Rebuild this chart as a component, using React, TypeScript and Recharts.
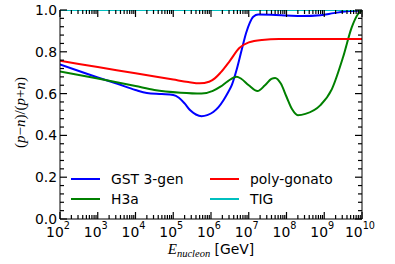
import React from 'react';
import { LineChart, Line, XAxis, YAxis, Legend } from 'recharts';

// ---- data (energies in GeV, values = (p-n)/(p+n)) ----
const gstEnergy = [1e2, 3.16e2, 1e3, 3.16e3, 1e4, 2e4, 5.01e4, 1e5, 1.41e5, 2e5, 2.82e5, 3.98e5, 5.62e5, 7.94e5, 1.15e6, 1.58e6, 2.14e6, 2.82e6, 3.55e6, 4.79e6, 6.46e6, 8.51e6, 1.07e7, 1.32e7, 1.78e7, 3.98e7, 1e8, 2.51e8, 7.94e8, 1.78e9, 3.98e9, 1e10];
const gstValues = [0.740, 0.708, 0.677, 0.648, 0.617, 0.603, 0.598, 0.593, 0.580, 0.553, 0.520, 0.500, 0.492, 0.497, 0.512, 0.535, 0.568, 0.605, 0.640, 0.715, 0.807, 0.890, 0.940, 0.968, 0.978, 0.977, 0.974, 0.971, 0.975, 0.985, 0.994, 0.998];

const h3aEnergy = [1e2, 1e3, 1e4, 3.16e4, 1.58e5, 5.62e5, 1.12e6, 1.78e6, 2.82e6, 4.79e6, 6.31e6, 1e7, 1.7e7, 2.69e7, 3.98e7, 5.01e7, 7.08e7, 1e8, 1.41e8, 2e8, 3.16e8, 7.94e8, 1.58e9, 3.16e9, 5.37e9, 7.94e9, 1e10];
const h3aValues = [0.706, 0.672, 0.636, 0.617, 0.604, 0.600, 0.613, 0.633, 0.660, 0.681, 0.671, 0.640, 0.612, 0.640, 0.670, 0.675, 0.648, 0.585, 0.525, 0.497, 0.503, 0.545, 0.620, 0.775, 0.918, 0.982, 0.998];

const polyEnergy = [1e2, 1e3, 1e4, 1e5, 2.51e5, 5.01e5, 8.91e5, 1.26e6, 1.78e6, 3.16e6, 5.62e6, 1e7, 2.24e7, 6.31e7, 1e10];
const polyValues = [0.757, 0.727, 0.697, 0.667, 0.655, 0.649, 0.657, 0.673, 0.700, 0.757, 0.818, 0.845, 0.857, 0.861, 0.861];

const tigEnergy = [1e2, 1e10];
const tigValues = [1.0, 1.0];

const seriesNames = ['GST 3-gen', 'H3a', 'poly-gonato', 'TIG'];

const xMajorTicks = [1e2, 1e3, 1e4, 1e5, 1e6, 1e7, 1e8, 1e9, 1e10];
const xTickExponents = ['2', '3', '4', '5', '6', '7', '8', '9', '10'];
const xMinorMultipliers = [2, 3, 4, 5, 6, 7, 8, 9];

const yMajorTicks = [0, 0.2, 0.4, 0.6, 0.8, 1.0];
const yTickLabels = ['0.0', '0.2', '0.4', '0.6', '0.8', '1.0'];
const yMinorTicks = [0.04, 0.08, 0.12, 0.16, 0.24, 0.28, 0.32, 0.36, 0.44, 0.48, 0.52, 0.56, 0.64, 0.68, 0.72, 0.76, 0.84, 0.88, 0.92, 0.96];

const toRows = (es: number[], vs: number[]) => es.map((e, i) => ({ e, v: vs[i] }));
const gstData = toRows(gstEnergy, gstValues);
const h3aData = toRows(h3aEnergy, h3aValues);
const polyData = toRows(polyEnergy, polyValues);
const tigData = toRows(tigEnergy, tigValues);

const xMinorTicks: number[] = [];
xMajorTicks.slice(0, -1).forEach((d) => xMinorMultipliers.forEach((m) => xMinorTicks.push(d * m)));
const xAllTicks = [...xMajorTicks, ...xMinorTicks];
const yAllTicks = [...yMajorTicks, ...yMinorTicks];

const FONT = 'DejaVu Sans';
const MATH = 'Liberation Serif';
const FS = 13.9;
const MAJOR = 7;
const MINOR = 4;
const TICK_W = 1.2;

const XTick = (props: any) => {
  const x = Number(props.x);
  const y = Number(props.y);
  const side = props.side;
  const value = props.payload ? props.payload.value : 0;
  const idx = xMajorTicks.findIndex((t) => Math.abs(t - value) / t < 1e-9);
  const major = idx >= 0;
  const len = major ? MAJOR : MINOR;
  const dir = side === 'bottom' ? -1 : 1;
  return (
    <g>
      <path d={`M${x},${y}L${x},${y + dir * len}`} stroke="#000" strokeWidth={TICK_W} fill="none" />
      {major && side === 'bottom' && (
        <text x={x - 2} y={y + 17.5} textAnchor="middle" fontFamily={FONT} fontSize={FS} fill="#000">
          <tspan>10</tspan>
          <tspan fontSize={9.7} dy={-7.2}>{xTickExponents[idx]}</tspan>
        </text>
      )}
    </g>
  );
};

const YTick = (props: any) => {
  const x = Number(props.x);
  const y = Number(props.y);
  const side = props.side;
  const value = props.payload ? props.payload.value : 0;
  const idx = yMajorTicks.findIndex((t) => Math.abs(t - value) < 1e-9);
  const major = idx >= 0;
  const len = major ? MAJOR : MINOR;
  const dir = side === 'left' ? 1 : -1;
  return (
    <g>
      <path d={`M${x},${y}L${x + dir * len},${y}`} stroke="#000" strokeWidth={TICK_W} fill="none" />
      {major && side === 'left' && (
        <text x={x - 3} y={y} dy="0.36em" textAnchor="end" fontFamily={FONT} fontSize={FS} fill="#000">
          {yTickLabels[idx]}
        </text>
      )}
    </g>
  );
};

const XLabel = (props: any) => {
  const { viewBox } = props;
  const cx = viewBox.x + viewBox.width / 2;
  const y = viewBox.y + 35;
  return (
    <text x={cx} y={y} textAnchor="middle" fill="#000" fontSize={FS}>
      <tspan fontFamily={MATH} fontStyle="italic" fontSize={15}>E</tspan>
      <tspan fontFamily={MATH} fontStyle="italic" fontSize={10.5} dy={2.5}>nucleon</tspan>
      <tspan fontFamily={FONT} dy={-2.5}> [GeV]</tspan>
    </text>
  );
};

const YLabel = (props: any) => {
  const { viewBox } = props;
  const cx = 20;
  const cy = viewBox.y + viewBox.height / 2 - 2;
  return (
    <text x={cx} y={cy} dy="0.35em" textAnchor="middle" fill="#000" fontFamily={MATH} fontSize={15} transform={`rotate(-90, ${cx}, ${cy})`}>
      <tspan>(</tspan>
      <tspan fontStyle="italic">p</tspan>
      <tspan>−</tspan>
      <tspan fontStyle="italic">n</tspan>
      <tspan>)/(</tspan>
      <tspan fontStyle="italic">p</tspan>
      <tspan>+</tspan>
      <tspan fontStyle="italic">n</tspan>
      <tspan>)</tspan>
    </text>
  );
};

const renderLegend = (props: any) => {
  const raw = props.payload || [];
  const items = seriesNames.map((n) => raw.find((it: any) => it.value === n)).filter(Boolean);
  return (
    <div style={{ display: 'grid', gridTemplateColumns: '139px 139px', gridTemplateRows: '20.3px 20.3px', gridAutoFlow: 'column' }}>
      {items.map((it: any) => (
        <div key={it.value} style={{ display: 'flex', alignItems: 'center', height: 20.3 }}>
          <span style={{ display: 'inline-block', width: 29, height: 2, background: it.color, marginRight: 11 }} />
          <span style={{ fontFamily: FONT, fontSize: FS, color: '#000', lineHeight: '20px', whiteSpace: 'nowrap' }}>{it.value}</span>
        </div>
      ))}
    </div>
  );
};

const axisStroke = { stroke: '#000', strokeWidth: 1 };
const xCommon = { dataKey: 'e', type: 'number' as const, scale: 'log' as const, domain: [1e2, 1e10], ticks: xAllTicks, interval: 0, tickSize: 0, tickMargin: 0, tickLine: false, allowDataOverflow: true };
const yCommon = { type: 'number' as const, domain: [0, 1], ticks: yAllTicks, interval: 0, tickSize: 0, tickMargin: 0, tickLine: false, axisLine: axisStroke, allowDataOverflow: true };

export default function App() {
  return (
    <div style={{ position: 'absolute', left: 0, top: 0, width: 395, height: 264, background: '#fff' }}>
      <LineChart width={395} height={264} margin={{ top: 9, right: 32, bottom: 0, left: 0 }}>
        <XAxis {...xCommon} xAxisId="b" orientation="bottom" height={45} axisLine={axisStroke} tick={(p: any) => <XTick {...p} side="bottom" />} label={<XLabel />} />
        <XAxis {...xCommon} xAxisId="t" orientation="top" height={1} axisLine={false} tick={(p: any) => <XTick {...p} side="top" />} />
        <YAxis {...yCommon} yAxisId="l" orientation="left" width={60} tick={(p: any) => <YTick {...p} side="left" />} label={<YLabel />} />
        <YAxis {...yCommon} yAxisId="r" orientation="right" width={1} tick={(p: any) => <YTick {...p} side="right" />} />
        <Legend
          layout="horizontal"
          verticalAlign="middle"
          align="center"
          content={renderLegend}
          wrapperStyle={{ left: 71, top: 169, width: 290, height: 42 }}
        />
        <Line xAxisId="b" yAxisId="l" data={gstData} dataKey="v" name={seriesNames[0]} type="monotone" stroke="#0000ff" strokeWidth={2} dot={false} isAnimationActive={false} />
        <Line xAxisId="b" yAxisId="l" data={h3aData} dataKey="v" name={seriesNames[1]} type="monotone" stroke="#008000" strokeWidth={2} dot={false} isAnimationActive={false} />
        <Line xAxisId="b" yAxisId="l" data={polyData} dataKey="v" name={seriesNames[2]} type="monotone" stroke="#ff0000" strokeWidth={2} dot={false} isAnimationActive={false} />
        <Line xAxisId="b" yAxisId="l" data={tigData} dataKey="v" name={seriesNames[3]} type="monotone" stroke="#00bfbf" strokeWidth={2} dot={false} isAnimationActive={false} />
      </LineChart>
    </div>
  );
}
